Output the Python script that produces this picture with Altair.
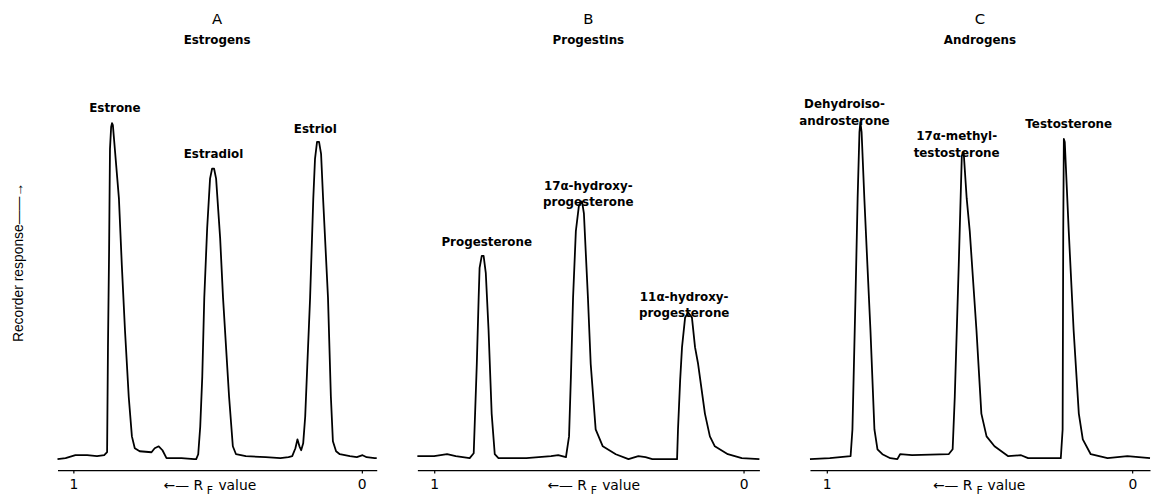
import altair as alt
import pandas as pd

# ---------------- data (Rf value, recorder response) ----------------
rf_a = [1.055, 1.027, 0.993, 0.952, 0.918, 0.893, 0.883, 0.880, 0.876, 0.873, 0.869, 0.866, 0.863,
        0.859, 0.842, 0.832, 0.821, 0.808, 0.797, 0.787, 0.770, 0.729, 0.718, 0.704, 0.691, 0.677,
        0.625, 0.581, 0.574, 0.567, 0.560, 0.553, 0.546, 0.536, 0.526, 0.519, 0.512, 0.505, 0.491,
        0.481, 0.460, 0.447, 0.436, 0.402, 0.333, 0.282, 0.254, 0.241, 0.230, 0.223, 0.216, 0.210,
        0.203, 0.196, 0.189, 0.179, 0.168, 0.162, 0.155, 0.148, 0.141, 0.134, 0.117, 0.107, 0.100,
        0.089, 0.076, 0.041, 0.017, -0.003, -0.017, -0.045, -0.052]
resp_a = [2.75, 3.0, 3.75, 3.75, 3.5, 3.75, 4.5, 31.0, 56.0, 81.0, 86.5, 87.5, 87.0,
          83.5, 68.5, 51.75, 35.25, 18.5, 8.5, 5.5, 4.75, 4.5, 5.5, 6.0, 5.0, 3.0,
          3.0, 2.75, 2.75, 4.0, 11.0, 23.5, 43.5, 61.0, 73.5, 76.0, 76.0, 73.5, 58.5,
          43.5, 18.5, 6.0, 4.0, 3.5, 3.25, 3.0, 3.25, 3.5, 5.5, 7.75, 6.0, 5.0,
          6.75, 13.5, 26.0, 43.5, 68.5, 78.5, 82.75, 82.75, 79.75, 68.5, 43.5, 18.5, 7.25,
          4.75, 4.0, 3.5, 3.25, 3.75, 3.25, 3.0, 3.0]

rf_b = [1.054, 1.000, 0.958, 0.930, 0.885, 0.872, 0.862, 0.856, 0.853, 0.846, 0.840, 0.833, 0.824,
        0.814, 0.804, 0.792, 0.766, 0.702, 0.622, 0.599, 0.574, 0.564, 0.558, 0.551, 0.542, 0.532,
        0.522, 0.516, 0.503, 0.494, 0.478, 0.455, 0.413, 0.372, 0.340, 0.317, 0.295, 0.215, 0.212,
        0.205, 0.199, 0.189, 0.179, 0.167, 0.157, 0.147, 0.125, 0.109, 0.093, 0.051, 0.006, -0.051]
resp_b = [3.5, 3.5, 4.0, 3.5, 3.0, 4.25, 26.75, 43.5, 51.0, 54.0, 54.0, 49.75, 35.25,
          14.25, 4.0, 3.0, 3.0, 3.0, 3.5, 3.75, 3.25, 8.5, 23.5, 43.5, 60.25, 66.75,
          67.75, 64.75, 43.5, 26.75, 10.25, 6.0, 4.0, 2.75, 3.5, 3.25, 2.75, 2.75, 10.25,
          22.75, 31.0, 38.5, 39.75, 38.5, 31.0, 26.75, 14.25, 8.5, 6.0, 4.0, 3.0, 2.75]

rf_c = [1.055, 0.990, 0.922, 0.916, 0.906, 0.899, 0.893, 0.890, 0.886, 0.877, 0.867, 0.857, 0.844,
        0.834, 0.818, 0.792, 0.769, 0.760, 0.721, 0.601, 0.588, 0.581, 0.568, 0.558, 0.552, 0.542,
        0.532, 0.510, 0.494, 0.477, 0.451, 0.406, 0.364, 0.341, 0.234, 0.228, 0.226, 0.224, 0.221,
        0.208, 0.192, 0.175, 0.162, 0.136, 0.081, 0.016, -0.058]
resp_c = [2.75, 3.0, 3.5, 10.25, 43.5, 68.5, 85.25, 87.75, 85.25, 68.5, 51.75, 35.25, 10.25,
          5.25, 4.0, 3.0, 2.75, 4.0, 3.75, 4.0, 5.25, 18.5, 51.75, 79.25, 80.25, 68.5,
          60.25, 35.25, 14.25, 8.5, 6.0, 3.5, 3.75, 3.0, 3.0, 10.25, 60.25, 83.5, 82.75,
          60.25, 35.25, 14.25, 7.75, 4.0, 3.0, 3.5, 3.0]

# peak labels: text, Rf of label centre, response at label bottom
names_a = ["Estrone", "Estradiol", "Estriol"]
lab_rf_a = [0.856, 0.514, 0.161]
lab_y_a = [89.5, 78.0, 84.25]

names_b = ["Progesterone", "17α-hydroxy-\nprogesterone", "11α-hydroxy-\nprogesterone"]
lab_rf_b = [0.830, 0.502, 0.192]
lab_y_b = [55.75, 70.0, 42.0]

names_c = ["Dehydroiso-\nandrosterone", "17α-methyl-\ntestosterone", "Testosterone"]
lab_rf_c = [0.942, 0.575, 0.208]
lab_y_c = [90.5, 82.5, 85.5]

panel_letters = ["A", "B", "C"]
panel_names = ["Estrogens", "Progestins", "Androgens"]
tick_values = [1, 0]

# "<- R_F value" axis caption: Rf where "<- R" ends, where subscript F sits, where "value" starts
cap_r_end = [0.550, 0.506, 0.523]
cap_f_mid = [0.527, 0.484, 0.500]
cap_v_start = [0.497, 0.457, 0.474]

FONT = "DejaVu Sans"


def panel(k, rf, resp, names, lrf, ly, domain, width, show_y):
    line_df = pd.DataFrame({"rf": rf, "resp": resp, "i": range(len(rf))})
    lab_df = pd.DataFrame({"rf": lrf, "resp": ly, "name": names})
    cap_r = pd.DataFrame({"rf": [cap_r_end[k]], "resp": [-4.0], "name": ["\u2190\u2014 R"]})
    cap_f = pd.DataFrame({"rf": [cap_f_mid[k]], "resp": [-5.3], "name": ["F"]})
    cap_v = pd.DataFrame({"rf": [cap_v_start[k]], "resp": [-4.0], "name": ["value"]})

    xaxis = alt.Axis(values=tick_values, format="d", grid=False,
                     domainColor="black", domainWidth=1.4,
                     tickColor="black", tickSize=3, tickWidth=1.2,
                     labelFont=FONT, labelFontSize=14, labelColor="black",
                     labelPadding=5, labelFlush=False, title="")
    if show_y:
        yaxis = alt.Axis(title="Recorder response\u2014\u2014\u2192", labels=False, ticks=False,
                         domain=False, grid=False, titleFont="Liberation Sans",
                         titleFontSize=14, titleFontWeight="normal", titleColor="black",
                         titlePadding=32)
    else:
        yaxis = None
    x = alt.X("rf:Q", scale=alt.Scale(domain=domain, reverse=True, nice=False, zero=False),
              axis=xaxis)
    y = alt.Y("resp:Q", scale=alt.Scale(domain=[0, 105], nice=False, zero=False), axis=yaxis)

    line = alt.Chart(line_df).mark_line(color="black", strokeWidth=1.8, strokeJoin="round").encode(
        x=x, y=y, order="i:Q")
    labels = alt.Chart(lab_df).mark_text(font=FONT, fontSize=12, fontWeight="bold",
                                         baseline="bottom", align="center",
                                         lineBreak="\n", lineHeight=17, color="black").encode(
        x=x, y=y, text="name:N")
    t_r = alt.Chart(cap_r).mark_text(font=FONT, fontSize=14, baseline="middle",
                                     align="right", color="black").encode(x=x, y=y, text="name:N")
    t_f = alt.Chart(cap_f).mark_text(font=FONT, fontSize=11, baseline="middle",
                                     align="center", color="black").encode(x=x, y=y, text="name:N")
    t_v = alt.Chart(cap_v).mark_text(font=FONT, fontSize=14, baseline="middle",
                                     align="left", color="black").encode(x=x, y=y, text="name:N")
    return alt.layer(line, labels, t_r, t_f, t_v).properties(
        width=width, height=420,
        title=alt.Title(panel_letters[k], subtitle=panel_names[k], anchor="middle", frame="group",
                        font=FONT, fontSize=15, fontWeight="normal", color="black",
                        subtitleFont=FONT, subtitleFontSize=12, subtitleFontWeight="bold",
                        subtitleColor="black", subtitlePadding=8, offset=8))


pa = panel(0, rf_a, resp_a, names_a, lab_rf_a, lab_y_a, [-0.052, 1.055], 322, True)
pb = panel(1, rf_b, resp_b, names_b, lab_rf_b, lab_y_b, [-0.051, 1.054], 345, False)
pc = panel(2, rf_c, resp_c, names_c, lab_rf_c, lab_y_c, [-0.058, 1.055], 343, False)

chart = alt.hconcat(pa, pb, pc, spacing=39).properties(
    padding={"left": 12, "top": 10, "right": 0, "bottom": 0},
    background="white",
).configure_view(stroke=None)

chart.save("out.html", embed_options={"renderer": "svg", "actions": False})
